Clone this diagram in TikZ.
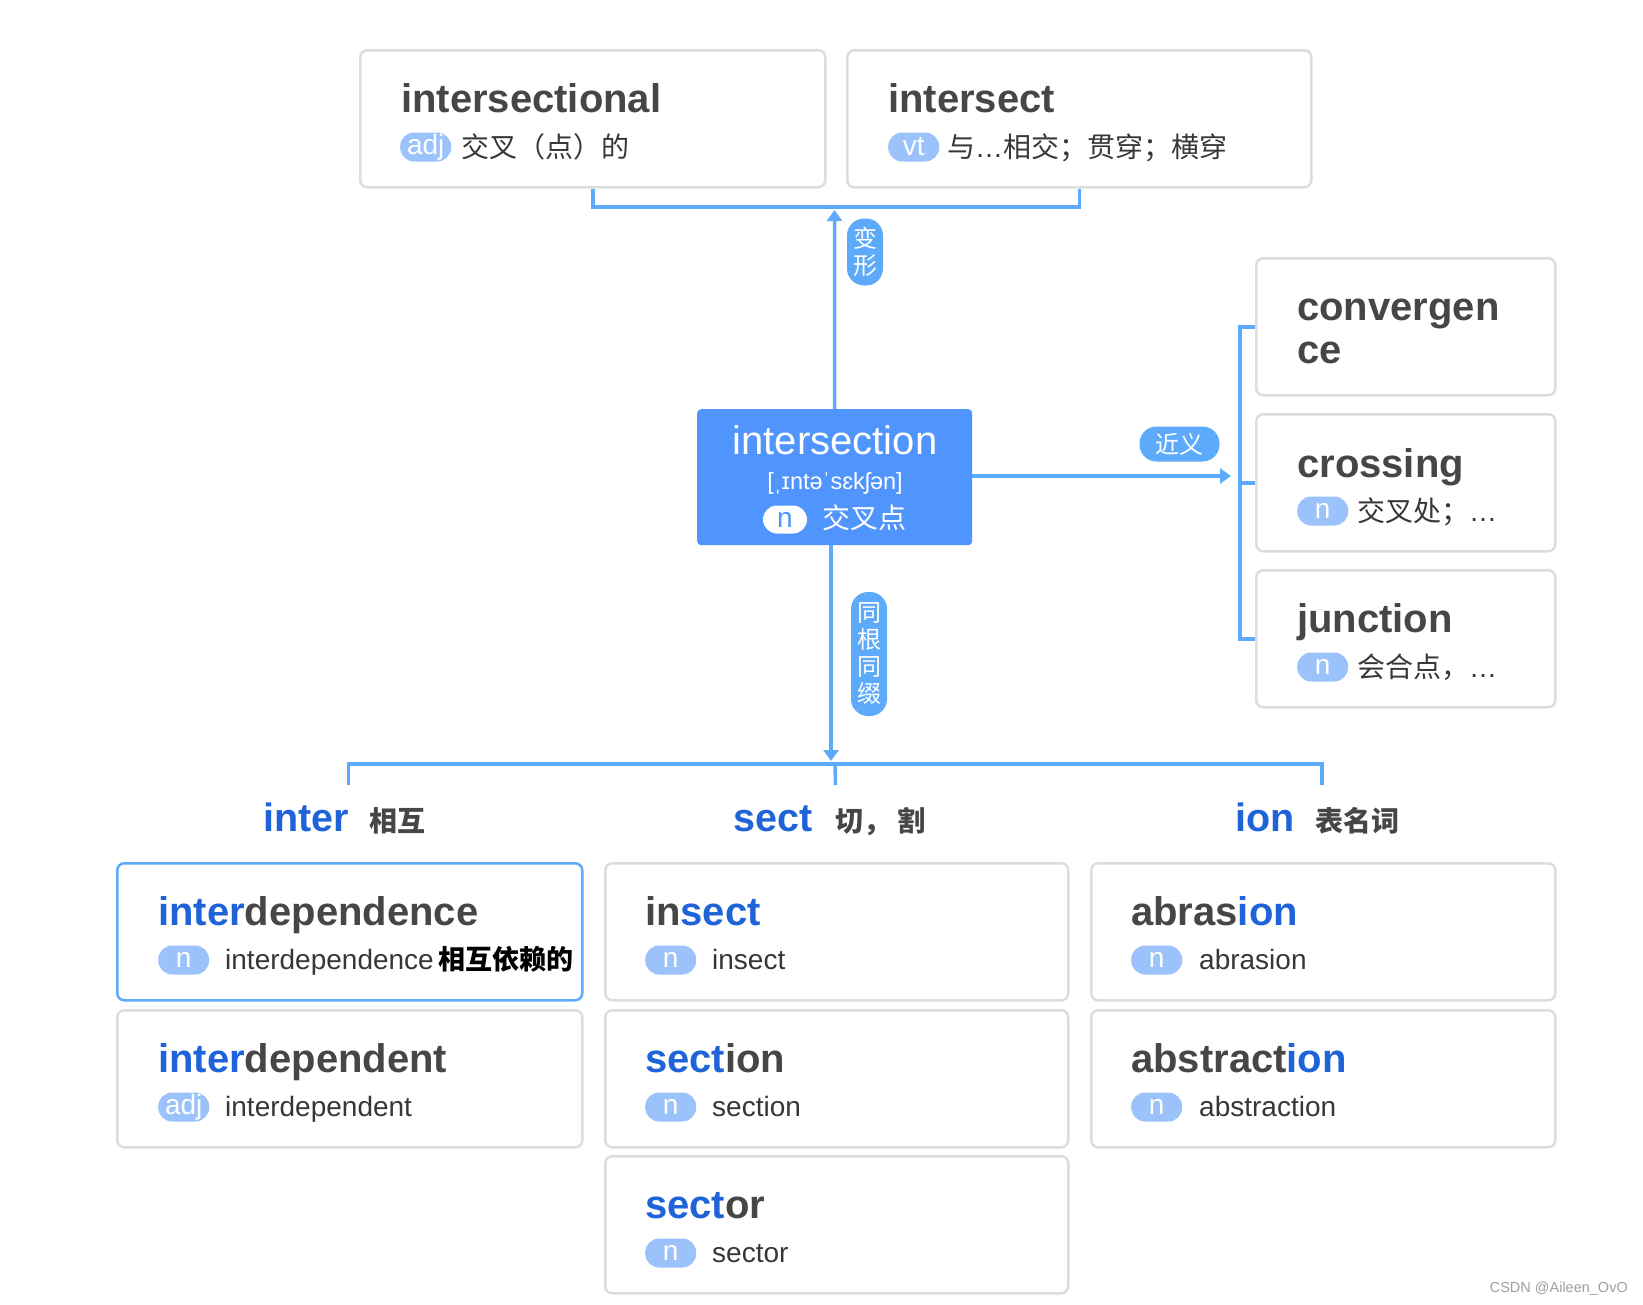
\documentclass[tikz,border=0pt]{standalone}
\usepackage{fontspec}
\setmainfont{Liberation Sans}
\newfontfamily\cjk{Noto Sans CJK SC}
\usetikzlibrary{arrows.meta}
\definecolor{lineblue}{RGB}{94,170,250}
\definecolor{pillblue}{RGB}{155,194,251}
\definecolor{mainblue}{RGB}{80,148,253}
\definecolor{pfx}{RGB}{30,99,216}
\definecolor{tgrey}{RGB}{70,70,70}
\definecolor{sgrey}{RGB}{55,55,55}
\definecolor{bgrey}{RGB}{221,221,221}
\definecolor{wmgrey}{RGB}{160,160,160}
\newcommand\fsz[2][0]{\fontsize{#2}{#2}\selectfont}
\tikzset{
  card/.style={draw=bgrey, line width=2.5pt, rounded corners=7pt, fill=white,
    anchor=north west, inner sep=0pt, minimum width=#1, minimum height=137pt},
  hlcard/.style={card=#1, draw=lineblue},
  ttl/.style={anchor=base west, inner sep=0pt, text=tgrey, font=\fsz{40}\bfseries},
  subtxt/.style={anchor=base west, inner sep=0pt, text=sgrey, font=\fsz{28}},
  posbadge/.style={fill=pillblue, text=white, rounded corners=14pt, minimum width=51pt,
    minimum height=29pt, inner sep=0pt, anchor=west, font=\fsz{28}},
  relpill/.style={fill=lineblue, text=white, inner sep=0pt, align=center,
    font=\cjk\fontsize{24}{27}\selectfont},
  conn/.style={draw=lineblue, line width=3.5pt},
  arr/.style={-{Triangle[length=11pt,width=15pt]}},
  head/.style={anchor=base west, inner sep=0pt, text=pfx, font=\fsz{39.5}\bfseries},
  headzh/.style={anchor=base west, inner sep=0pt, text=tgrey, font=\cjk\fsz{28}\bfseries}
}
\begin{document}
\begin{tikzpicture}[x=1pt,y=-1pt]
\useasboundingbox[fill=white] (0,0) rectangle (1643,1304);

% ---- top cards
\node[card=465pt] (c1) at (359,49) {};
\node[ttl] (c1t) at (401,112) {intersectional};
\node[posbadge] (c1p) at (400,147) {adj};
\node[subtxt] (c1s) at (461,157) {\cjk 交叉（点）的};

\node[card=464pt] (c2) at (846,49) {};
\node[ttl] (c2t) at (888,112) {intersect};
\node[posbadge] (c2p) at (888,147) {vt};
\node[subtxt] (c2s) at (947,157) {{\cjk 与}…{\cjk 相交；贯穿；横穿}};

% ---- centre
\node[anchor=north west, fill=mainblue, rounded corners=4pt, minimum width=275pt,
  minimum height=136pt, inner sep=0pt] (cen) at (697,409) {};
\node[anchor=base, inner sep=0pt, text=white, font=\fsz{40}] (cenw) at (835,454) {intersection};
\node[anchor=base, inner sep=0pt, text=white, font=\fsz{23.5}] (cenp) at (835,489) {[ˌɪntəˈsɛkʃən]};
\node[fill=white, text=mainblue, rounded corners=14pt, minimum width=44pt, minimum height=28pt,
  inner sep=0pt, font=\fsz{28}] (cenb) at (785,519.5) {n};
\node[anchor=base west, inner sep=0pt, text=white, font=\cjk\fsz{28}] (cenz) at (822,528) {交叉点};

% ---- right cards
\node[card=299pt] (r1) at (1255,257) {};
\node[ttl] (r1t) at (1297,320) {convergen};
\node[ttl] (r1u) at (1297,363) {ce};

\node[card=299pt] (r2) at (1255,413) {};
\node[ttl] (r2t) at (1297,477) {crossing};
\node[posbadge] (r2p) at (1297,511) {n};
\node[subtxt] (r2s) at (1357,521) {{\cjk 交叉处；}…};

\node[card=299pt] (r3) at (1255,569) {};
\node[ttl] (r3t) at (1297,632) {junction};
\node[posbadge] (r3p) at (1297,667) {n};
\node[subtxt] (r3s) at (1357,677) {{\cjk 会合点，}…};

% ---- group headings
\node[head] (h1) at (263,831) {inter};
\node[headzh] (h1z) at (369,831) {相互};
\node[head] (h2) at (733,831) {sect};
\node[headzh] (h2z) at (835,831) {切，\hspace{6pt}割};
\node[head] (h3) at (1235,831) {ion};
\node[headzh] (h3z) at (1315,831) {表名词};

% ---- bottom cards, column 1
\node[hlcard=465pt] (b11) at (116,862) {};
\node[ttl] (b11t) at (158,925) {{\color{pfx}inter}dependence};
\node[posbadge] (b11p) at (158,960) {n};
\node[subtxt] (b11s) at (225,969) {interdependence\hspace{5pt}{\cjk\bfseries\fsz{27}\color{black}相互依赖的}};

\node[card=465pt] (b12) at (116,1009) {};
\node[ttl] (b12t) at (158,1072) {{\color{pfx}inter}dependent};
\node[posbadge] (b12p) at (158,1107) {adj};
\node[subtxt] (b12s) at (225,1116) {interdependent};

% ---- column 2
\node[card=463pt] (b21) at (604,862) {};
\node[ttl] (b21t) at (645,925) {in{\color{pfx}sect}};
\node[posbadge] (b21p) at (645,960) {n};
\node[subtxt] (b21s) at (712,969) {insect};

\node[card=463pt] (b22) at (604,1009) {};
\node[ttl] (b22t) at (645,1072) {{\color{pfx}sect}ion};
\node[posbadge] (b22p) at (645,1107) {n};
\node[subtxt] (b22s) at (712,1116) {section};

\node[card=463pt] (b23) at (604,1155) {};
\node[ttl] (b23t) at (645,1218) {{\color{pfx}sect}or};
\node[posbadge] (b23p) at (645,1253) {n};
\node[subtxt] (b23s) at (712,1262) {sector};

% ---- column 3
\node[card=464pt] (b31) at (1090,862) {};
\node[ttl] (b31t) at (1131,925) {abras{\color{pfx}ion}};
\node[posbadge] (b31p) at (1131,960) {n};
\node[subtxt] (b31s) at (1199,969) {abrasion};

\node[card=464pt] (b32) at (1090,1009) {};
\node[ttl] (b32t) at (1131,1072) {abstract{\color{pfx}ion}};
\node[posbadge] (b32p) at (1131,1107) {n};
\node[subtxt] (b32s) at (1199,1116) {abstraction};

% ---- connectors
\coordinate (tb) at (835,207);
\coordinate (ta) at (834.5,210);
\draw[conn] (c1.south) |- (tb) -| (c2.south);
\draw[conn,arr] (cen.north) -- (ta);
\node[relpill, minimum width=36pt, minimum height=67pt, rounded corners=17pt] (p1) at (865,252) {变\\形};

\coordinate (ra) at (1231,476);
\coordinate (rbx) at (1240,480);
\draw[conn,arr] (cen.east |- ra) -- (ra);
\draw[conn] (r1.west) -| (rbx) |- (r3.west);
\draw[conn] (rbx |- r2.west) -- (r2.west);
\node[relpill, minimum width=80pt, minimum height=35pt, rounded corners=17pt] (p2) at (1179.5,444) {近义};

\coordinate (ba) at (831,761);
\coordinate (bh) at (835,764);
\coordinate (s1) at (348.5,785);
\coordinate (s2) at (835.5,785);
\coordinate (s3) at (1322,785);
\draw[conn,arr] (cen.south -| ba) -- (ba);
\draw[conn] (s1) |- (bh) -| (s3);
\draw[conn] (bh) -- (s2);
\node[relpill, minimum width=36pt, minimum height=124pt, rounded corners=17pt] (p3) at (869,654) {同\\根\\同\\缀};

% ---- watermark
\node[anchor=base east, inner sep=0pt, text=wmgrey, font=\fsz{14.5}] (wm) at (1628,1292) {CSDN @Aileen\_OvO};
\end{tikzpicture}
\end{document}
